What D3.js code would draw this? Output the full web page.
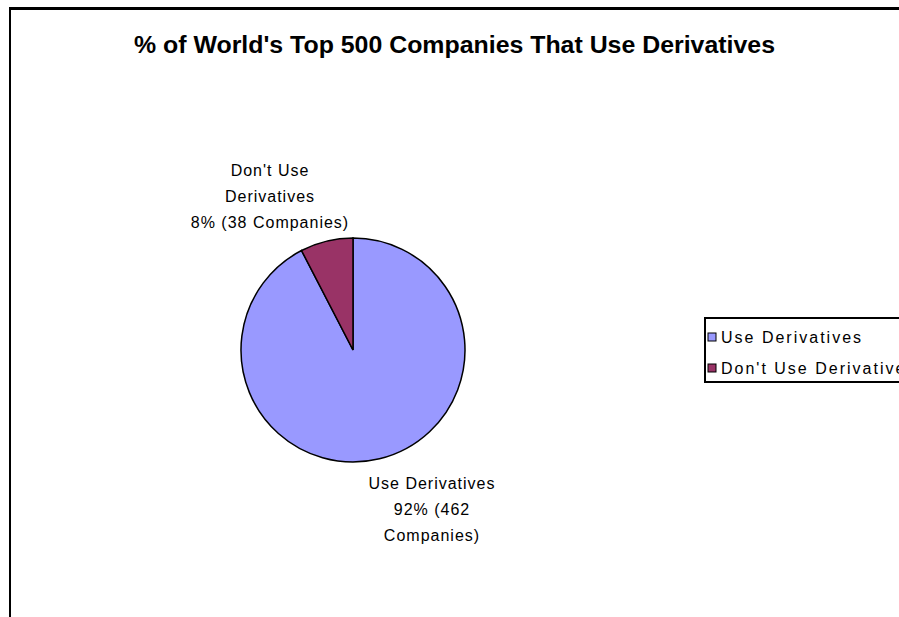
<!DOCTYPE html>
<html>
<head>
<meta charset="utf-8">
<script src="https://cdn.jsdelivr.net/npm/d3@7"></script>
<style>
    body { margin: 0; background: #fff; }
    svg { display: block; font-family: Arial, "Liberation Sans", sans-serif; }
</style>
</head>
<body>
<svg id="chart"></svg>
<script>
// Chart data
const categories = ["Use Derivatives", "Don't Use Derivatives"];
const companies = [462, 38];
const percents = [92, 8];
const colors = ["#9999FF", "#993366"];
const titleText = "% of World's Top 500 Companies That Use Derivatives";

const width = 899;
const height = 617;

const svg = d3.select("#chart")
    .attr("width", width)
    .attr("height", height);

svg.append("rect")
    .attr("width", width)
    .attr("height", height)
    .attr("fill", "#fff");

// Chart area border (only top and left visible in the crop)
svg.append("line")
    .attr("x1", 9).attr("y1", 8.5)
    .attr("x2", width).attr("y2", 8.5)
    .attr("stroke", "#000")
    .attr("stroke-width", 3);
svg.append("line")
    .attr("x1", 10).attr("y1", 7)
    .attr("x2", 10).attr("y2", height)
    .attr("stroke", "#000")
    .attr("stroke-width", 2);

// Title
svg.append("text")
    .attr("x", 134)
    .attr("y", 53)
    .attr("font-size", "23px")
    .attr("font-weight", "bold")
    .attr("textLength", 641)
    .attr("lengthAdjust", "spacingAndGlyphs")
    .text(titleText);

// Pie
const cx = 353, cy = 350, radius = 112;
const pie = d3.pie().sort(null).value(d => d)
    .startAngle(0).endAngle(2 * Math.PI);
const arc = d3.arc().innerRadius(0).outerRadius(radius);
const arcs = pie(companies);

const pieGroup = svg.append("g")
    .attr("transform", `translate(${cx}, ${cy})`);

pieGroup.selectAll("path")
    .data(arcs)
    .join("path")
    .attr("d", arc)
    .attr("fill", (d, i) => colors[i])
    .attr("stroke", "#000")
    .attr("stroke-width", 1.5);

// Data labels
const labelLines = [
    ["Use Derivatives", `${percents[0]}% (${companies[0]}`, "Companies)"],
    ["Don't Use", "Derivatives", `${percents[1]}% (${companies[1]} Companies)`]
];
const labelPos = [
    { x: 432, y: 489 },
    { x: 270, y: 176 }
];

labelLines.forEach((lines, i) => {
    const t = svg.append("text")
        .attr("text-anchor", "middle")
        .attr("font-size", "16px")
        .attr("letter-spacing", "1px")
        .attr("fill", "#000");
    lines.forEach((line, j) => {
        t.append("tspan")
            .attr("x", labelPos[i].x)
            .attr("y", labelPos[i].y + j * 26)
            .text(line);
    });
});

// Legend
const legend = svg.append("g");
legend.append("rect")
    .attr("x", 705)
    .attr("y", 318)
    .attr("width", 220)
    .attr("height", 64)
    .attr("fill", "#fff")
    .attr("stroke", "#000")
    .attr("stroke-width", 2);

const legendY = d3.scalePoint()
    .domain(categories)
    .range([337, 368]);

categories.forEach((c, i) => {
    legend.append("rect")
        .attr("x", 708)
        .attr("y", legendY(c) - 4)
        .attr("width", 8)
        .attr("height", 8)
        .attr("fill", colors[i])
        .attr("stroke", "#000")
        .attr("stroke-width", 1);
    legend.append("text")
        .attr("x", 721)
        .attr("y", legendY(c) + 6)
        .attr("font-size", "16px")
        .attr("letter-spacing", "2px")
        .text(c);
});
</script>
</body>
</html>
